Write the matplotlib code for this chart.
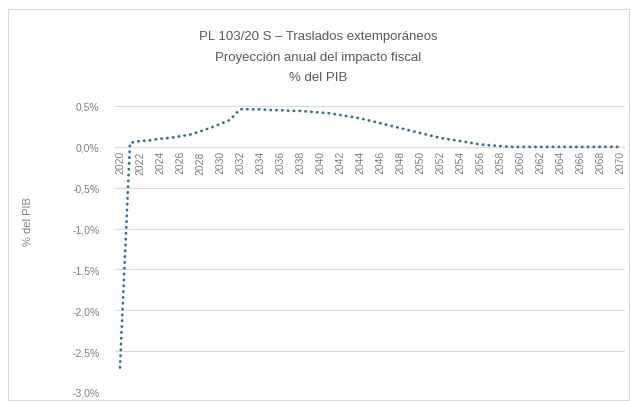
import matplotlib
matplotlib.use("Agg")
import matplotlib.pyplot as plt
from matplotlib.ticker import FuncFormatter, MultipleLocator
from matplotlib.patches import Rectangle

plt.rcParams['font.family'] = ['Liberation Sans', 'DejaVu Sans']

years = list(range(2020, 2071))
impacto = [
    -2.70, 0.05, 0.07, 0.08, 0.10, 0.11, 0.13, 0.15, 0.19, 0.23,
    0.28, 0.33, 0.46, 0.46, 0.46, 0.45, 0.45, 0.44, 0.44, 0.43,
    0.42, 0.41, 0.39, 0.37, 0.35, 0.32, 0.29, 0.26, 0.23, 0.20,
    0.17, 0.14, 0.11, 0.09, 0.07, 0.05, 0.03, 0.02, 0.01, 0.00,
    0.00, 0.00, 0.00, 0.00, 0.00, 0.00, 0.00, 0.00, 0.00, 0.00,
    0.00,
]
tick_years = list(range(2020, 2071, 2))
title_lines = ["PL 103/20 S \u2013 Traslados extempor\u00e1neos",
               "Proyecci\u00f3n anual del impacto fiscal",
               "% del PIB"]
ylabel = "% del PIB"

W, H = 631, 402
fig = plt.figure(figsize=(W / 100, H / 100), dpi=100)
fig.patch.set_facecolor('white')

# outer chart frame
fig.patches.append(Rectangle((8 / W, 1 / H), 621 / W, (H - 11) / H, transform=fig.transFigure,
                             fill=False, edgecolor='#d9d9d9', linewidth=0.8))

ax = fig.add_axes([115 / W, 9 / H, 510 / W, 286 / H])
ax.set_xlim(2019.5, 2070.5)
ax.set_ylim(-3.0, 0.5)

ax.yaxis.set_major_locator(MultipleLocator(0.5))
ax.yaxis.set_major_formatter(FuncFormatter(lambda v, p: f"{v:.1f}%".replace('.', ',').replace('-0,0', '0,0')))
ax.grid(axis='y', color='#d9d9d9', linewidth=0.8)
ax.set_axisbelow(True)
for s in ax.spines.values():
    s.set_visible(False)

ax.tick_params(axis='y', length=0, pad=11, labelsize=7.5, labelcolor='#7f7f7f')
ax.set_xticks([])

# x axis crossing at 0 with rotated year labels
ax.axhline(0, color='#d9d9d9', linewidth=0.8, zorder=1)
for yr in tick_years:
    ax.text(yr, -0.04, str(yr), rotation=90, ha='center', va='top',
            fontsize=7.5, color='#7f7f7f')

ax.plot(years, impacto, color='#2f6f8f', linewidth=2.0,
        linestyle=(0, (0.1, 2.0)), dash_capstyle='round', zorder=3)

ax.set_ylabel(ylabel, fontsize=8, color='#7f7f7f')
ax.yaxis.set_label_coords(-0.16, 0.6)

for i, line in enumerate(title_lines):
    fig.text(318 / W, 1 - (37 + 20.5 * i) / H, line, ha='center', va='center',
             fontsize=9.5, color='#595959')

fig.savefig('out.png', dpi=100, facecolor='white')
